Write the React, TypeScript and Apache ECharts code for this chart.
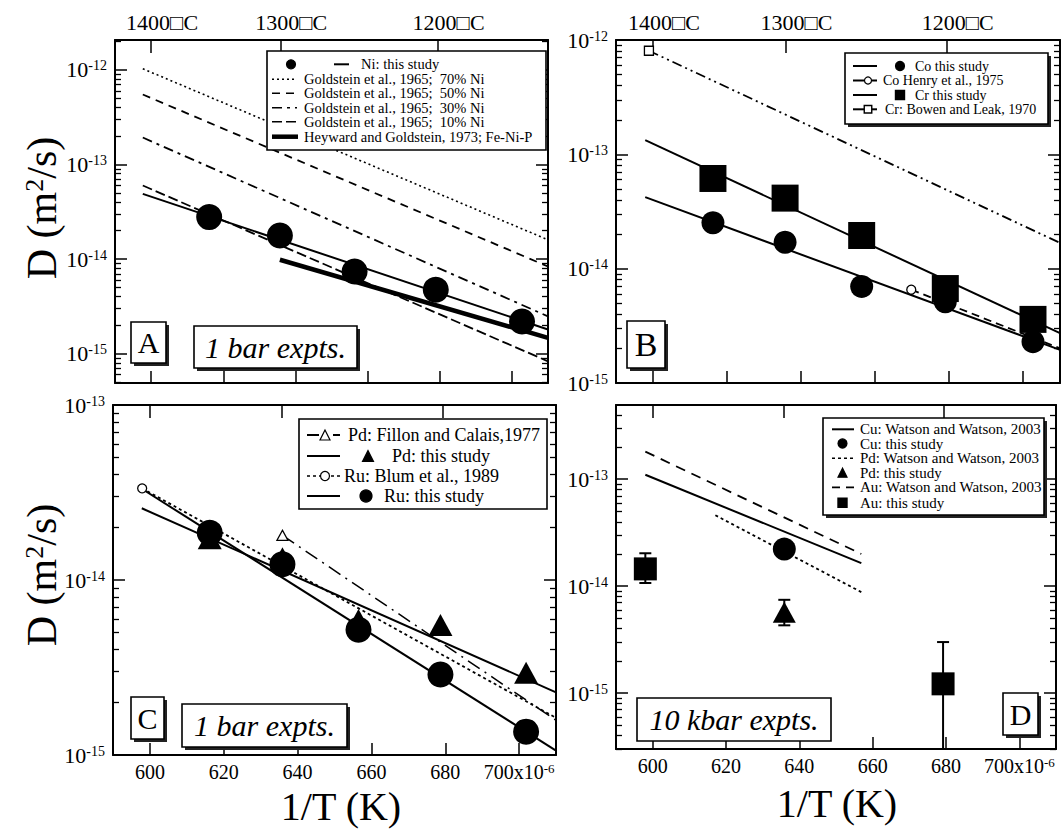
import React, { useEffect, useRef } from "react";
import * as echarts from "echarts";

const SERIF = "Liberation Serif";

// ---------- axes ----------
const invTTicks = [600, 620, 640, 660, 680, 700]; // 1/T (x10^-6 K^-1)
const tempTickPos = [600, 635.8, 679.4];
const tempTickLabels = ["1400□C", "1300□C", "1200□C"];

// ---------- Panel A (1 bar, Ni) ----------
const invT_A = [616.1, 635.7, 656.4, 678.9, 702.8];
const ni_A = [2.78e-14, 1.78e-14, 7.4e-15, 4.74e-15, 2.19e-15];
const niFit_A = [[597.7, 4.9e-14], [710, 1.8e-15]];
const gold70_A = [[597.7, 1.03e-12], [710, 1.6e-14]];
const gold50_A = [[597.7, 5.5e-13], [710, 8.36e-15]];
const gold30_A = [[597.7, 1.93e-13], [710, 2.48e-15]];
const gold10_A = [[597.7, 6.0e-14], [710, 8.3e-16]];
const heyward_A = [[635.7, 9.85e-15], [710, 1.47e-15]];

// ---------- Panel B (1 bar, Co & Cr) ----------
const invT_B = [616.2, 635.7, 656.4, 679.0, 702.7];
const cr_B = [6.15e-14, 4.14e-14, 1.95e-14, 6.7e-15, 3.6e-15];
const co_B = [2.52e-14, 1.7e-14, 7.0e-15, 5.14e-15, 2.3e-15];
const crFit_B = [[597.9, 1.33e-13], [710, 2.73e-15]];
const coFit_B = [[597.9, 4.22e-14], [710, 1.95e-15]];
const coHenry_B = [[669.8, 6.55e-15], [710, 2.01e-15]];
const crBowen_B = [[598.9, 8.05e-13], [710, 1.68e-14]];

// ---------- Panel C (1 bar, Pd & Ru) ----------
const invT_C = [616.2, 635.9, 656.5, 678.7, 701.9];
const ru_C = [1.86e-14, 1.23e-14, 5.2e-15, 2.88e-15, 1.36e-15];
const pd_C = [1.73e-14, 1.33e-14, 5.9e-15, 5.53e-15, 2.95e-15];
const pdFit_C = [[597.8, 2.57e-14], [710, 2.28e-15]];
const ruFit_C = [[598, 3.3e-14], [710, 1.06e-15]];
const ruBlum_C = [[597.9, 3.34e-14], [710, 1.63e-15]];
const pdFillon_C = [[635.9, 1.8e-14], [710, 1.58e-15]];

// ---------- Panel D (10 kbar) ----------
const invT_Au_D = [598.0, 679.2];
const au_D = [1.45e-14, 1.22e-15];
const auLow_D = [1.07e-14, 1e-16];
const auHigh_D = [2.03e-14, 3.0e-15];
const invT_Cu_D = [635.9];
const cu_D = [2.22e-14];
const invT_Pd_D = [635.9];
const pd_D = [5.7e-15];
const pdLow_D = [4.3e-15];
const pdHigh_D = [7.45e-15];
const cuWatson_D = [[598.0, 1.1e-13], [656.9, 1.64e-14]];
const auWatson_D = [[598.0, 1.81e-13], [656.9, 2.0e-14]];
const pdWatson_D = [[617.1, 4.6e-14], [656.9, 8.8e-15]];

// ---------- legend texts ----------
const legendA = [
  "Ni: this study",
  "Goldstein et al., 1965;  70% Ni",
  "Goldstein et al., 1965;  50% Ni",
  "Goldstein et al., 1965;  30% Ni",
  "Goldstein et al., 1965;  10% Ni",
  "Heyward and Goldstein, 1973; Fe-Ni-P",
];
const legendB = ["Co this study", "Co Henry et al., 1975", "Cr this study", "Cr: Bowen and Leak, 1970"];
const legendC = ["Pd: Fillon and Calais,1977", "Pd: this study", "Ru: Blum et al., 1989", "Ru: this study"];
const legendD = [
  "Cu: Watson and Watson, 2003",
  "Cu: this study",
  "Pd: Watson and Watson, 2003",
  "Pd: this study",
  "Au: Watson and Watson, 2003",
  "Au: this study",
];

const yExtents = [
  [-15.31, -11.683],
  [-15, -12],
  [-15, -13],
  [-15.523, -12.306],
];

const L = (v: number) => Math.log10(v);
const pts = (xs: number[], ys: number[]) => xs.map((x, i) => [x, L(ys[i])]);
const seg = (p: number[][]) => p.map(([x, y]) => [x, L(y)]);

const BLACK = "#000";

function xAxesFor(g: number, bottomLabels: boolean, topLabels: boolean) {
  const line = { show: true, onZero: false, lineStyle: { color: BLACK, width: 2 } };
  return [
    {
      type: "value",
      gridIndex: g,
      min: 590,
      max: 710,
      position: "bottom",
      axisLine: line,
      splitLine: { show: false },
      axisTick: { show: true, inside: true, length: 12, customValues: invTTicks, lineStyle: { color: BLACK, width: 1.5 } },
      axisLabel: {
        show: bottomLabels,
        customValues: invTTicks,
        margin: 7,
        color: BLACK,
        fontFamily: SERIF,
        fontSize: 20,
        formatter: (v: number) => (Math.abs(v - 700) < 0.01 ? "{b|700x10}{s|-6}" : `{b|${Math.round(v)}}`),
        rich: {
          b: { fontSize: 20, fontFamily: SERIF, color: BLACK },
          s: { fontSize: 13, fontFamily: SERIF, color: BLACK, verticalAlign: "top" },
        },
      },
    },
    {
      type: "value",
      gridIndex: g,
      min: 590,
      max: 710,
      position: "top",
      axisLine: line,
      splitLine: { show: false },
      axisTick: { show: true, inside: true, length: 13, customValues: tempTickPos, lineStyle: { color: BLACK, width: 1.5 } },
      axisLabel: {
        show: topLabels,
        customValues: tempTickPos,
        margin: 7,
        color: BLACK,
        fontFamily: SERIF,
        fontSize: 22,
        formatter: (v: number) => {
          const i = tempTickPos.findIndex((p) => Math.abs(p - v) < 0.05);
          return i >= 0 ? `{t|${tempTickLabels[i]}}` : "";
        },
        rich: { t: { fontSize: 22, fontFamily: SERIF, color: BLACK, padding: [0, 0, 0, 22] } },
      },
    },
  ];
}

function yAxesFor(g: number) {
  const [lo, hi] = yExtents[g];
  const majors: number[] = [];
  for (let n = Math.ceil(lo - 1e-9); n <= Math.floor(hi + 1e-9); n++) majors.push(n);
  const minors: number[] = [];
  for (let n = Math.floor(lo); n < Math.ceil(hi); n++) {
    for (let k = 2; k <= 9; k++) {
      const v = n + Math.log10(k);
      if (v > lo && v < hi) minors.push(v);
    }
  }
  const base = { type: "value", gridIndex: g, min: lo, max: hi, splitLine: { show: false } };
  const line = { show: true, onZero: false, lineStyle: { color: BLACK, width: 2 } };
  const majTick = { show: true, inside: true, length: 12, customValues: majors, lineStyle: { color: BLACK, width: 1.5 } };
  const minTick = { show: true, inside: true, length: 6, customValues: minors, lineStyle: { color: BLACK, width: 1.3 } };
  return [
    {
      ...base,
      position: "left",
      axisLine: line,
      axisTick: majTick,
      axisLabel: {
        show: true,
        customValues: majors,
        margin: 8,
        color: BLACK,
        fontFamily: SERIF,
        fontSize: 22,
        formatter: (v: number) => `{b|10}{s|${Math.round(v)}}`,
        rich: {
          b: { fontSize: 22, fontFamily: SERIF, color: BLACK },
          s: { fontSize: 14, fontFamily: SERIF, color: BLACK, verticalAlign: "top" },
        },
      },
    },
    { ...base, position: "left", axisLine: { show: false }, axisTick: minTick, axisLabel: { show: false } },
    { ...base, position: "right", axisLine: line, axisTick: majTick, axisLabel: { show: false } },
    { ...base, position: "right", axisLine: { show: false }, axisTick: minTick, axisLabel: { show: false } },
  ];
}

function lineS(g: number, data: number[][], dash: any, width = 2) {
  return {
    type: "line",
    xAxisIndex: 2 * g,
    yAxisIndex: 4 * g,
    data: seg(data),
    showSymbol: false,
    symbol: "none",
    silent: true,
    z: 3,
    lineStyle: { color: BLACK, width, type: dash || "solid", opacity: 1 },
  };
}

function scatS(g: number, data: number[][], symbol: string, size: any, filled = true, z = 4) {
  return {
    type: "scatter",
    xAxisIndex: 2 * g,
    yAxisIndex: 4 * g,
    data,
    symbol,
    symbolSize: size,
    silent: true,
    z,
    itemStyle: filled
      ? { color: BLACK, opacity: 1 }
      : { color: "#fff", borderColor: BLACK, borderWidth: 1.3, opacity: 1 },
  };
}

function errS(g: number, xs: number[], lo: number[], hi: number[]) {
  return {
    type: "custom",
    xAxisIndex: 2 * g,
    yAxisIndex: 4 * g,
    silent: true,
    z: 3,
    encode: { x: 0, y: 1 },
    data: xs.map((x, i) => [x, L(lo[i]), L(hi[i])]),
    renderItem: (params: any, api: any) => {
      const x = api.value(0);
      const pLo = api.coord([x, api.value(1)]);
      const pHi = api.coord([x, api.value(2)]);
      const cs = params.coordSys;
      const bottom = cs.y + cs.height;
      const yLo = Math.min(pLo[1], bottom);
      const cap = 6;
      const st = { stroke: BLACK, lineWidth: 2 };
      const children: any[] = [
        { type: "line", shape: { x1: pLo[0], y1: pHi[1], x2: pLo[0], y2: yLo }, style: st },
        { type: "line", shape: { x1: pHi[0] - cap, y1: pHi[1], x2: pHi[0] + cap, y2: pHi[1] }, style: st },
      ];
      if (pLo[1] <= bottom) {
        children.push({ type: "line", shape: { x1: pLo[0] - cap, y1: pLo[1], x2: pLo[0] + cap, y2: pLo[1] }, style: st });
      }
      return { type: "group", children };
    },
  };
}

// ---------- graphic helpers (legends / annotations) ----------
function txt(x: number, y: number, text: string, size: number, o: any = {}) {
  const align = o.align || "left";
  return {
    type: "text",
    x,
    y,
    z: 102,
    rotation: o.rot || 0,
    style: {
      text,
      fontSize: size,
      fontFamily: SERIF,
      fontStyle: o.italic ? "italic" : "normal",
      fill: BLACK,
      textAlign: align,
      align,
      textVerticalAlign: "middle",
      verticalAlign: "middle",
      rich: o.rich,
    },
  };
}
function box(x: number, y: number, w: number, h: number, shadow: boolean) {
  const r: any[] = [];
  if (shadow) r.push({ type: "rect", z: 99, shape: { x: x + 3, y: y + 3, width: w, height: h }, style: { fill: "#222" } });
  r.push({ type: "rect", z: 100, shape: { x, y, width: w, height: h }, style: { fill: "#fff", stroke: BLACK, lineWidth: 1.6 } });
  return r;
}
function ln(x1: number, y1: number, x2: number, y2: number, dash: any = null, w = 2) {
  return { type: "line", z: 101, shape: { x1, y1, x2, y2 }, style: { stroke: BLACK, lineWidth: w, lineDash: dash } };
}
function cir(cx: number, cy: number, r: number, filled = true) {
  return { type: "circle", z: 102, shape: { cx, cy, r }, style: { fill: filled ? BLACK : "#fff", stroke: BLACK, lineWidth: 1.2 } };
}
function sq(cx: number, cy: number, s: number, filled = true) {
  return { type: "rect", z: 102, shape: { x: cx - s / 2, y: cy - s / 2, width: s, height: s }, style: { fill: filled ? BLACK : "#fff", stroke: BLACK, lineWidth: 1.4 } };
}
function tri(cx: number, cy: number, s: number, filled = true) {
  return {
    type: "polygon",
    z: 102,
    shape: { points: [[cx, cy - s / 2], [cx - s / 2, cy + s / 2], [cx + s / 2, cy + s / 2]] },
    style: { fill: filled ? BLACK : "#fff", stroke: BLACK, lineWidth: 1.2 },
  };
}

function buildGraphics() {
  const g: any[] = [];
  // Legend A
  g.push(...box(267, 51, 279, 99, false));
  const rA = [64.3, 79.3, 93.3, 107.7, 121.7, 136.7];
  const fA = 14.5;
  g.push(cir(291, rA[0], 4.5), ln(334, rA[0], 349, rA[0]), txt(361, rA[0], legendA[0], fA));
  const dA = [[2, 3], [8, 6], [10, 5, 3, 5], [10, 4]];
  for (let i = 0; i < 4; i++) g.push(ln(272, rA[i + 1], 297, rA[i + 1], dA[i], 1.6), txt(304, rA[i + 1], legendA[i + 1], fA));
  g.push(ln(272, rA[5], 298, rA[5], null, 4.5), txt(304, rA[5], legendA[5], fA));

  // Legend B
  g.push(...box(845, 53, 203, 71, true));
  const rB = [66, 80.5, 95, 109.3];
  const fB = 14;
  g.push(ln(853, rB[0], 877, rB[0]), cir(900, rB[0], 4.5), txt(915, rB[0], legendB[0], fB));
  g.push(ln(853, rB[1], 877, rB[1]), cir(868, rB[1], 3.5, false), txt(883, rB[1], legendB[1], fB));
  g.push(ln(853, rB[2], 877, rB[2]), sq(900, rB[2], 9), txt(915, rB[2], legendB[2], fB));
  g.push(ln(853, rB[3], 877, rB[3]), sq(868, rB[3], 7.5, false), txt(885, rB[3], legendB[3], fB));

  // Legend C
  g.push(...box(299, 419, 248, 90, false));
  const rC = [435, 456, 476, 496];
  g.push(ln(307, rC[0], 319, rC[0]), ln(333, rC[0], 340, rC[0]), tri(325, rC[0], 10, false), txt(348, rC[0], legendC[0], 18));
  g.push(ln(307, rC[1], 340, rC[1]), tri(368, rC[1], 11), txt(392, rC[1], legendC[1], 18));
  g.push(ln(307, rC[2], 341, rC[2], [3, 3], 1.6), cir(325, rC[2], 4.5, false), txt(344, rC[2], legendC[2], 18));
  g.push(ln(307, rC[3], 340, rC[3]), cir(366, rC[3], 6), txt(384, rC[3], legendC[3], 18));

  // Legend D
  g.push(...box(823, 418, 221, 97, true));
  const rD = [429.3, 443.5, 458.3, 472.7, 487.3, 502.7];
  g.push(ln(832, rD[0], 854, rD[0]), txt(860, rD[0], legendD[0], 15));
  g.push(cir(842.5, rD[1], 4.5), txt(860, rD[1], legendD[1], 15));
  g.push(ln(832, rD[2], 854, rD[2], [3, 3], 1.6), txt(860, rD[2], legendD[2], 15));
  g.push(tri(842.5, rD[3], 9), txt(860, rD[3], legendD[3], 15));
  g.push(ln(832, rD[4], 854, rD[4], [8, 6], 1.8), txt(860, rD[4], legendD[4], 15));
  g.push(sq(842.5, rD[5], 9), txt(860, rD[5], legendD[5], 15));

  // Panel tags
  g.push(...box(131, 322, 35, 41, true), txt(148.5, 342.5, "A", 30, { align: "center" }));
  g.push(...box(194, 326, 163, 42, true), txt(275.5, 347, "1 bar expts.", 30, { align: "center", italic: true }));
  g.push(...box(627, 321, 38, 47, true), txt(646, 344.5, "B", 34, { align: "center" }));
  g.push(...box(131, 697, 33, 42, true), txt(147.5, 718, "C", 30, { align: "center" }));
  g.push(...box(182, 704, 165, 43, true), txt(264.5, 725.5, "1 bar expts.", 30, { align: "center", italic: true }));
  g.push(...box(637, 698, 194, 43, false), txt(734, 719.5, "10 kbar expts.", 30, { align: "center", italic: true }));
  g.push(...box(1003, 693, 35, 42, true), txt(1020.5, 714, "D", 30, { align: "center" }));

  // Axis titles
  const yRich = { s: { fontSize: 26, fontFamily: SERIF, verticalAlign: "top", fill: BLACK } };
  g.push(txt(42, 208, "D (m{s|2}/s)", 42, { align: "center", rot: Math.PI / 2, rich: yRich }));
  g.push(txt(42, 575, "D (m{s|2}/s)", 42, { align: "center", rot: Math.PI / 2, rich: yRich }));
  g.push(txt(341, 806, "1/T (K)", 40, { align: "center" }));
  g.push(txt(837, 803, "1/T (K)", 40, { align: "center" }));
  return g;
}

function buildOption() {
  const grids = [
    { left: 115, top: 40, width: 433, height: 343 },
    { left: 616, top: 40, width: 444, height: 343 },
    { left: 113, top: 405, width: 443, height: 350 },
    { left: 616, top: 405, width: 440, height: 344 },
  ];
  const xAxis = [
    ...xAxesFor(0, false, true),
    ...xAxesFor(1, false, true),
    ...xAxesFor(2, true, false),
    ...xAxesFor(3, true, false),
  ];
  const yAxis = [...yAxesFor(0), ...yAxesFor(1), ...yAxesFor(2), ...yAxesFor(3)];

  const series: any[] = [
    // A
    lineS(0, gold70_A, [2, 3], 1.6),
    lineS(0, gold50_A, [8, 6], 1.8),
    lineS(0, gold30_A, [10, 5, 3, 5], 1.8),
    lineS(0, gold10_A, [10, 4], 1.8),
    lineS(0, heyward_A, null, 4.5),
    lineS(0, niFit_A, null, 2),
    scatS(0, pts(invT_A, ni_A), "circle", 26),
    // B
    lineS(1, crBowen_B, [10, 4, 2, 4, 2, 4], 1.8),
    scatS(1, seg([crBowen_B[0]]), "rect", 9, false),
    lineS(1, coHenry_B, [8, 5], 1.8),
    scatS(1, seg([coHenry_B[0]]), "circle", 9, false),
    lineS(1, crFit_B, null, 2),
    lineS(1, coFit_B, null, 2),
    scatS(1, pts(invT_B, co_B), "circle", 23),
    scatS(1, pts(invT_B, cr_B), "rect", 27, true, 5),
    // C
    lineS(2, pdFillon_C, [14, 6, 2, 6], 1.5),
    scatS(2, seg([pdFillon_C[0]]), "triangle", [11, 10], false),
    lineS(2, ruBlum_C, [3, 3], 1.8),
    scatS(2, seg([ruBlum_C[0]]), "circle", 9, false),
    lineS(2, pdFit_C, null, 2),
    lineS(2, ruFit_C, null, 2),
    scatS(2, pts(invT_C, pd_C), "triangle", [24, 22]),
    scatS(2, pts(invT_C, ru_C), "circle", 26, true, 5),
    // D
    lineS(3, auWatson_D, [10, 7], 1.8),
    lineS(3, cuWatson_D, null, 2),
    lineS(3, pdWatson_D, [3, 3], 1.8),
    errS(3, invT_Au_D, auLow_D, auHigh_D),
    errS(3, invT_Pd_D, pdLow_D, pdHigh_D),
    scatS(3, pts(invT_Au_D, au_D), "rect", 23),
    scatS(3, pts(invT_Cu_D, cu_D), "circle", 23),
    scatS(3, pts(invT_Pd_D, pd_D), "triangle", [23, 21]),
  ];

  return {
    animation: false,
    backgroundColor: "#fff",
    textStyle: { fontFamily: SERIF },
    grid: grids,
    xAxis,
    yAxis,
    series,
    graphic: { elements: buildGraphics() },
  };
}

export default function App() {
  const ref = useRef<HTMLDivElement>(null);
  useEffect(() => {
    const chart = echarts.init(ref.current as HTMLDivElement, undefined, { renderer: "svg" });
    chart.setOption(buildOption() as any);
    return () => chart.dispose();
  }, []);
  return (
    <div
      ref={ref}
      style={{ position: "absolute", left: 0, top: 0, width: 1062, height: 829, background: "#fff" }}
    />
  );
}
